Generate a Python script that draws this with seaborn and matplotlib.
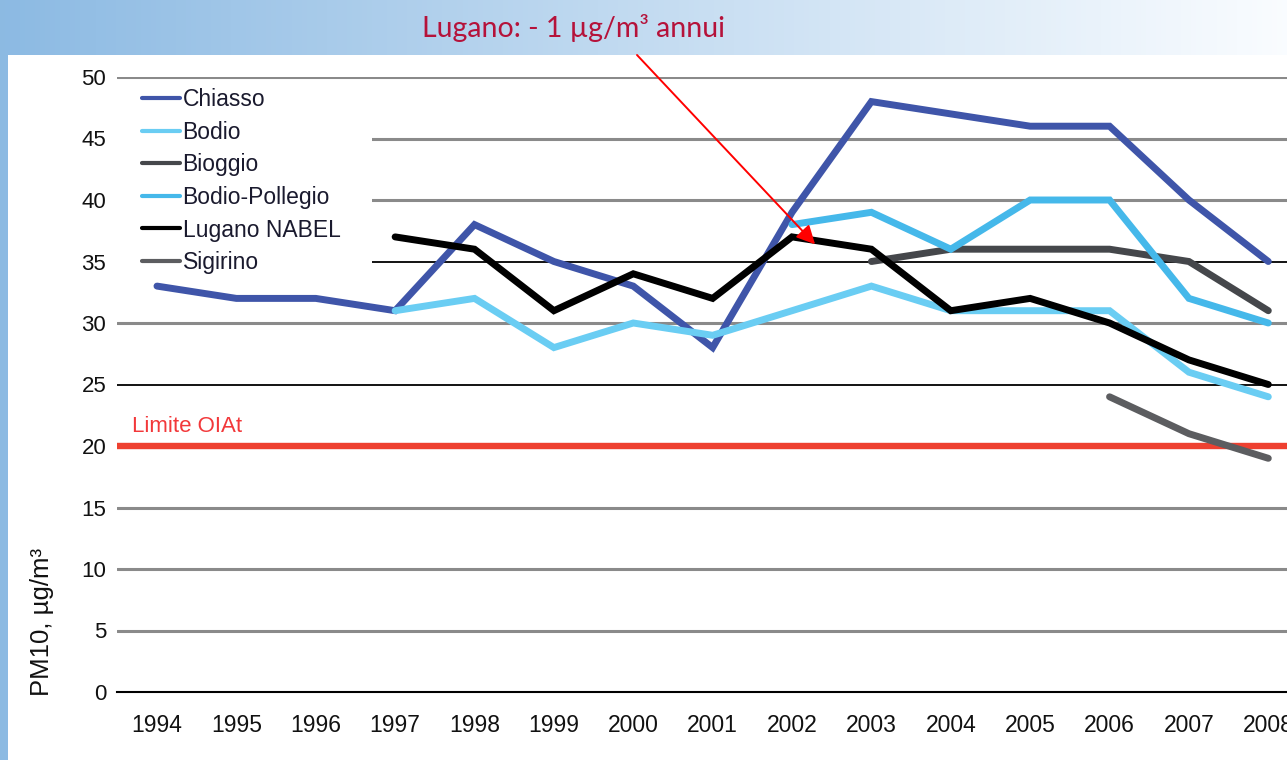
import matplotlib
matplotlib.use("Agg")
import matplotlib.pyplot as plt
from matplotlib.patches import Rectangle
import seaborn as sns
import numpy as np
import pandas as pd

# data (PM10 yearly means, ug/m3)
years = list(range(1994, 2009))
chiasso = [33, 32, 32, 31, 38, 35, 33, 28, 39, 48, 47, 46, 46, 40, 35]
bodio_years = list(range(1997, 2009))
bodio = [31, 32, 28, 30, 29, 31, 33, 31, 31, 31, 26, 24]
bioggio_years = list(range(2003, 2009))
bioggio = [35, 36, 36, 36, 35, 31]
pollegio_years = list(range(2002, 2009))
bodio_pollegio = [38, 39, 36, 40, 40, 32, 30]
lugano_years = list(range(1997, 2009))
lugano = [37, 36, 31, 34, 32, 37, 36, 31, 32, 30, 27, 25]
sigirino_years = [2006, 2007, 2008]
sigirino = [24, 21, 19]
limite = 20

stations = ["Chiasso", "Bodio", "Bioggio", "Bodio-Pollegio", "Lugano NABEL", "Sigirino"]
palette = {
    "Chiasso": "#3f55a9",
    "Bodio": "#6acdf3",
    "Bioggio": "#45474b",
    "Bodio-Pollegio": "#45b8ea",
    "Lugano NABEL": "#000000",
    "Sigirino": "#5c5d60",
}

frames = []
for name, yrs, vals in [
    ("Chiasso", years, chiasso),
    ("Bodio", bodio_years, bodio),
    ("Bioggio", bioggio_years, bioggio),
    ("Bodio-Pollegio", pollegio_years, bodio_pollegio),
    ("Lugano NABEL", lugano_years, lugano),
    ("Sigirino", sigirino_years, sigirino),
]:
    frames.append(pd.DataFrame({"year": yrs, "pm10": vals, "station": name}))
df = pd.concat(frames, ignore_index=True)

sns.set_style("white")
plt.rcParams["font.family"] = ["Liberation Sans", "DejaVu Sans"]

W, H = 1287, 760
fig = plt.figure(figsize=(W / 100, H / 100), dpi=100)

# slide background: blue gradient band on top, blue strip on the left
bg = fig.add_axes([0, 0, 1, 1], zorder=-5)
grad = np.linspace(0, 1, 256)
c0 = np.array([0.55, 0.73, 0.89])
c1 = np.array([0.98, 0.99, 1.0])
img = c0[None, :] * (1 - grad[:, None]) + c1[None, :] * grad[:, None]
bg.imshow(img[None, :, :], extent=[0, W, 0, H], aspect="auto")
bg.add_patch(Rectangle((8, 0), W - 8, H - 55, color="white", lw=0))
bg.set_xlim(0, W)
bg.set_ylim(0, H)
bg.axis("off")

left = 117.3 / W
bottom = (H - 692) / H
ax = fig.add_axes([left, bottom, (1308 - 117.3) / W, (692 - 77) / H])
ax.set_facecolor("none")

sns.lineplot(data=df, x="year", y="pm10", hue="station", hue_order=stations,
             palette=palette, linewidth=5, solid_capstyle="round",
             solid_joinstyle="miter", ax=ax, zorder=3)

ax.axhline(limite, color="#ee4030", lw=4.6, zorder=2.5)
ax.text(1993.68, 20.7, "Limite OIAt", color="#f2383a", fontsize=16,
        va="bottom", ha="left")

ax.set_xlim(1993.5, 2008.5)
ax.set_ylim(0, 50)
ax.set_yticks(np.arange(0, 51, 5))
ax.set_xticks(years)
ax.set_xticklabels([str(y) for y in years])
ax.set_xticks(np.arange(1993.5, 2009, 1), minor=True)
ax.tick_params(axis="x", which="major", length=0, pad=16, labelsize=16.5)
ax.tick_params(axis="x", which="minor", length=5, width=1.5, direction="out", color="black")
ax.tick_params(axis="y", length=0, pad=8, labelsize=16)
ax.set_xlabel("")
ax.set_ylabel("")
for t in ax.get_xticklabels() + ax.get_yticklabels():
    t.set_color("#111111")

for s in ["top", "right", "left"]:
    ax.spines[s].set_visible(False)
ax.spines["bottom"].set_color("black")
ax.spines["bottom"].set_linewidth(1.5)

ax.set_axisbelow(True)
ax.yaxis.grid(True, color="#8a8a8a", lw=2.2)
for val, gl in zip(ax.get_yticks(), ax.get_ygridlines()):
    if val in (25, 35):
        gl.set_color("black")
        gl.set_linewidth(1.3)
    if val == 0:
        gl.set_visible(False)

# white box behind the legend hides the gridlines there
ax.add_patch(Rectangle((1993.5, 34.1), 3.21, 15.5, color="white", lw=0, zorder=1))

leg = ax.legend(loc="upper left", bbox_to_anchor=(142 / W, 1 - 88 / H),
                bbox_transform=fig.transFigure, frameon=False, fontsize=16.5,
                handlelength=1.65, handletextpad=0.12, labelspacing=0.42,
                borderpad=0, borderaxespad=0)
for ln in leg.get_lines():
    ln.set_linewidth(3)
for t in leg.get_texts():
    t.set_color("#1a1a2e")

fig.text(42 / W, (H - 696) / H, "PM10, µg/m³", rotation=90, ha="center",
         va="bottom", fontsize=18.5, color="#111111")

fig.text(573 / W, 1 - 28 / H, "Lugano: - 1 µg/m³ annui", color="#b5123a",
         fontsize=20.5, ha="center", va="center", family=["Lato", "DejaVu Sans"])
ax.annotate("", xy=(2002.29, 36.4), xycoords="data",
            xytext=(637 / W, 1 - 55 / H), textcoords="figure fraction",
            arrowprops=dict(arrowstyle="-|>", color="#ff0000", lw=1.4,
                            mutation_scale=28, shrinkA=0, shrinkB=0),
            zorder=6)

fig.savefig("out.png", dpi=100)
